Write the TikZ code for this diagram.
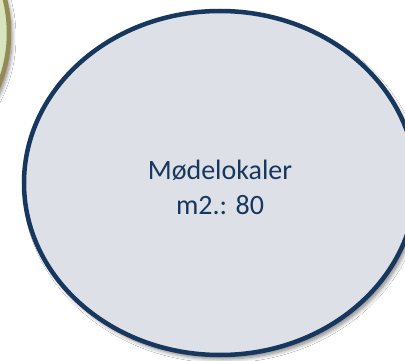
\documentclass[tikz,border=0pt]{standalone}
\usepackage{fontspec}
\setmainfont{Carlito}
\usetikzlibrary{shadows.blur,shapes.geometric}
\definecolor{navy}{HTML}{17375E}
\definecolor{paleblue}{HTML}{DDE1E7}
\definecolor{palegreen}{HTML}{D7E4BD}
\definecolor{olive}{HTML}{948A54}
\tikzset{
  bubble/.style={line width=4.5pt, blur shadow={shadow xshift=3pt, shadow yshift=-4pt, shadow blur steps=8, shadow blur radius=4pt, shadow opacity=50}},
}
\begin{document}
\begin{tikzpicture}[x=1pt,y=-1pt]
\useasboundingbox (0,0) rectangle (405,361);
\fill[white] (0,0) rectangle (405,361);
\path[bubble, draw=olive, fill=palegreen] (-129,33) circle[radius=138];
\node[bubble, draw=navy, fill=paleblue, ellipse, minimum width=392pt, minimum height=344pt, inner sep=0pt] (room) at (220,183) {};
\node[text=navy, font=\fontsize{28pt}{35pt}\selectfont, align=center] (label) at (220,187) {Mødelokaler\\m2.: 80};
\end{tikzpicture}
\end{document}
